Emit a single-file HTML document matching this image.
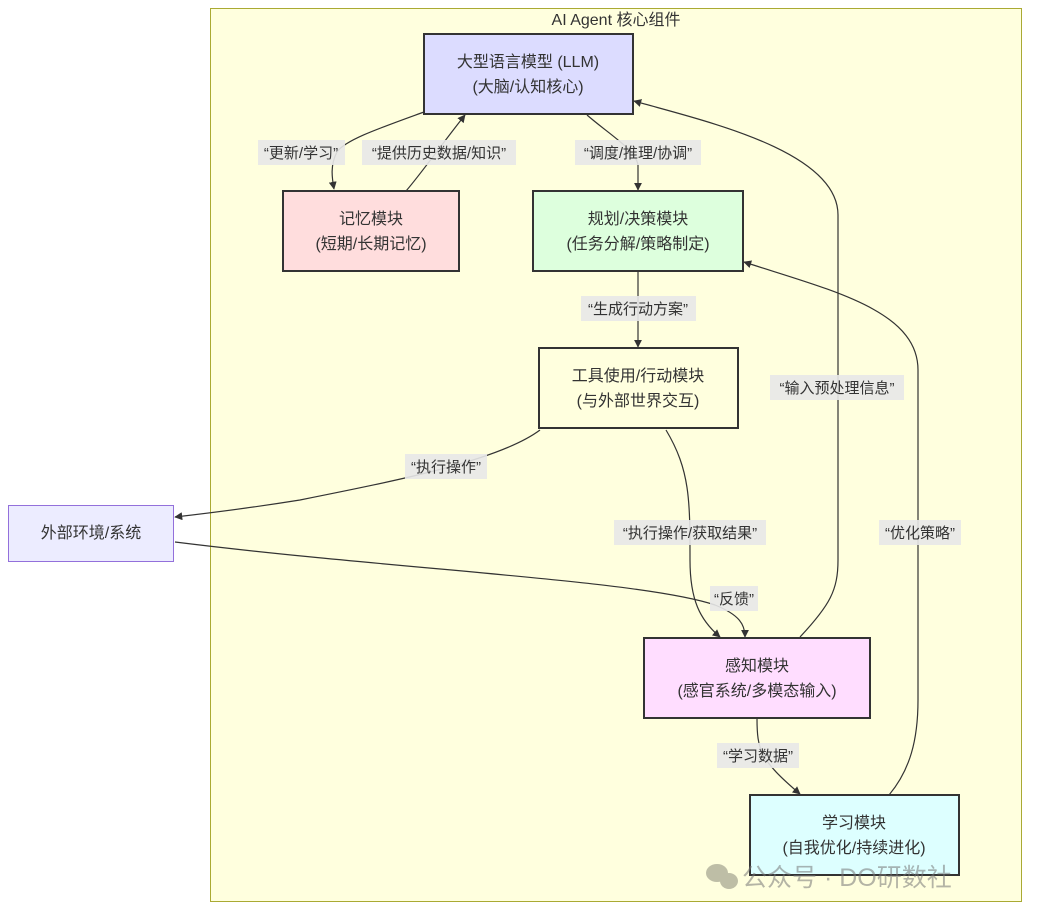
<!DOCTYPE html>
<html><head><meta charset="utf-8"><style>
html,body{margin:0;padding:0;background:#fff;width:1038px;height:917px;overflow:hidden}
svg{display:block}
text{font-family:"Liberation Sans","Noto Sans CJK SC",sans-serif;fill:#333}
.n{font-size:16px;text-anchor:middle}
.l{font-size:15px;text-anchor:middle}
.e{fill:none;stroke:#333;stroke-width:1.2}
</style></head><body>
<svg width="1038" height="917" viewBox="0 0 1038 917">
<defs><marker id="a" viewBox="0 0 10 10" refX="9" refY="5" markerWidth="8" markerHeight="8" orient="auto-start-reverse" markerUnits="userSpaceOnUse"><path d="M0,0L10,5L0,10z" fill="#333"/></marker></defs>
<rect x="210.5" y="8.5" width="811" height="893" fill="#ffffde" stroke="#aaaa33"/>
<text x="616" y="25" style="font-size:16px;text-anchor:middle">AI Agent 核心组件</text>

<!-- edges -->
<path class="e" d="M424,112 C380,128 345,140 337,152 C330,165 332,178 334,189" marker-end="url(#a)"/>
<path class="e" d="M406,191 C420,175 445,140 465,115" marker-end="url(#a)"/>
<path class="e" d="M587,115 C610,135 636,150 638,165 L638,190" marker-end="url(#a)"/>
<path class="e" d="M638,271 L638,347" marker-end="url(#a)"/>
<path class="e" d="M540,430 C500,460 400,480 300,500 C250,508 210,513 175,517" marker-end="url(#a)"/>
<path class="e" d="M666,430 C690,470 690,500 690,560 C690,600 700,620 720,637" marker-end="url(#a)"/>
<path class="e" d="M175,542 C400,570 640,580 715,605 C740,615 745,625 745,637" marker-end="url(#a)"/>
<path class="e" d="M800,637 C830,605 838,590 838,560 L838,215 C838,150 700,120 634,101" marker-end="url(#a)"/>
<path class="e" d="M889,795 C910,770 918,740 918,700 L918,370 C918,310 830,290 744,262" marker-end="url(#a)"/>
<path class="e" d="M757,718 C757,750 760,760 800,794" marker-end="url(#a)"/>

<!-- labels -->
<rect x="258" y="140" width="87" height="25" fill="#e8e8e8" opacity=".9"/><text class="l" x="301" y="158">“更新/学习”</text>
<rect x="362" y="140" width="154" height="25" fill="#e8e8e8" opacity=".9"/><text class="l" x="439" y="158">“提供历史数据/知识”</text>
<rect x="575" y="140" width="126" height="25" fill="#e8e8e8" opacity=".9"/><text class="l" x="638" y="158">“调度/推理/协调”</text>
<rect x="581" y="296" width="115" height="25" fill="#e8e8e8" opacity=".9"/><text class="l" x="638" y="314">“生成行动方案”</text>
<rect x="770" y="375" width="134" height="25" fill="#e8e8e8" opacity=".9"/><text class="l" x="837" y="393">“输入预处理信息”</text>
<rect x="405" y="454" width="82" height="25" fill="#e8e8e8" opacity=".9"/><text class="l" x="446" y="472">“执行操作”</text>
<rect x="614" y="520" width="152" height="25" fill="#e8e8e8" opacity=".9"/><text class="l" x="690" y="538">“执行操作/获取结果”</text>
<rect x="879" y="520" width="82" height="25" fill="#e8e8e8" opacity=".9"/><text class="l" x="920" y="538">“优化策略”</text>
<rect x="710" y="586" width="48" height="25" fill="#e8e8e8" opacity=".9"/><text class="l" x="734" y="604">“反馈”</text>
<rect x="717" y="743" width="82" height="25" fill="#e8e8e8" opacity=".9"/><text class="l" x="758" y="761">“学习数据”</text>

<!-- nodes -->
<rect x="424" y="34" width="209" height="80" fill="#dcdcff" stroke="#333" stroke-width="2"/>
<text class="n" x="528" y="67">大型语言模型 (LLM)</text><text class="n" x="528" y="92">(大脑/认知核心)</text>
<rect x="283" y="191" width="176" height="80" fill="#ffdddd" stroke="#333" stroke-width="2"/>
<text class="n" x="371" y="224">记忆模块</text><text class="n" x="371" y="249">(短期/长期记忆)</text>
<rect x="533" y="191" width="210" height="80" fill="#ddffdd" stroke="#333" stroke-width="2"/>
<text class="n" x="638" y="224">规划/决策模块</text><text class="n" x="638" y="249">(任务分解/策略制定)</text>
<rect x="539" y="348" width="199" height="80" fill="#ffffde" stroke="#333" stroke-width="2"/>
<text class="n" x="638" y="381">工具使用/行动模块</text><text class="n" x="638" y="406">(与外部世界交互)</text>
<rect x="8.5" y="505.5" width="165" height="56" fill="#ececff" stroke="#9370db"/>
<text class="n" x="91" y="538">外部环境/系统</text>
<rect x="644" y="638" width="226" height="80" fill="#ffddff" stroke="#333" stroke-width="2"/>
<text class="n" x="757" y="671">感知模块</text><text class="n" x="757" y="696">(感官系统/多模态输入)</text>
<rect x="750" y="795" width="209" height="80" fill="#ddffff" stroke="#333" stroke-width="2"/>
<text class="n" x="854" y="828">学习模块</text><text class="n" x="854" y="853">(自我优化/持续进化)</text>

<!-- watermark -->
<g opacity="0.55">
<ellipse cx="717" cy="873" rx="11" ry="9" fill="#8a8a7a"/>
<ellipse cx="729" cy="881" rx="9" ry="8" fill="#8a8a7a"/>
<text x="742" y="886" style="font-size:25px;fill:#777">公众号 · DO研数社</text>
</g>
</svg>
</body></html>
